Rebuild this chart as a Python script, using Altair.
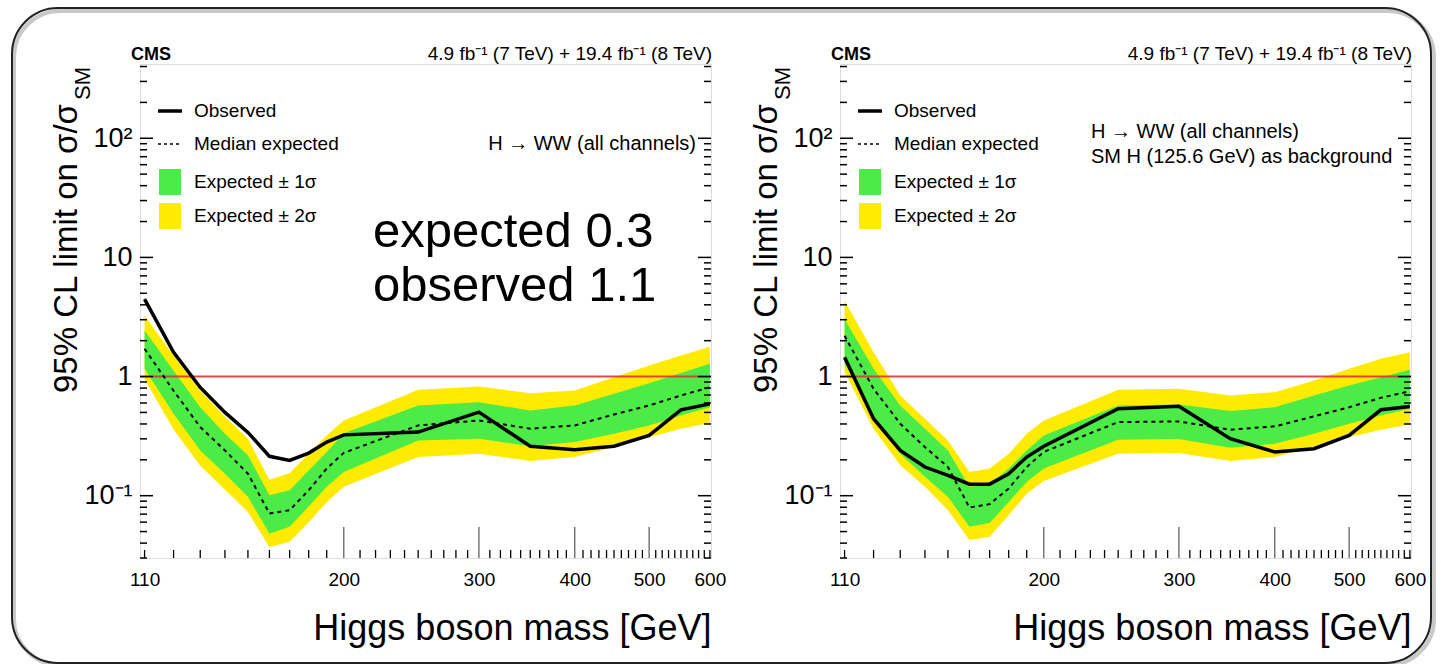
import altair as alt
import pandas as pd

# ---------------- data ----------------
mass = [110, 120, 130, 140, 150, 160, 170, 180, 190, 200, 250, 300, 350, 400, 450, 500, 550, 600]

left_obs = [4.47, 1.60, 0.81, 0.50, 0.34, 0.214, 0.198, 0.228, 0.282, 0.324, 0.342, 0.503, 0.26, 0.243, 0.26, 0.321, 0.526, 0.59]
left_exp = [1.71, 0.76, 0.377, 0.24, 0.153, 0.071, 0.0756, 0.111, 0.169, 0.229, 0.389, 0.428, 0.365, 0.389, 0.481, 0.572, 0.693, 0.814]
left_g_hi = [2.43, 1.12, 0.553, 0.331, 0.218, 0.101, 0.111, 0.163, 0.233, 0.335, 0.572, 0.61, 0.519, 0.572, 0.717, 0.879, 1.07, 1.28]
left_g_lo = [1.16, 0.487, 0.24, 0.153, 0.098, 0.048, 0.055, 0.081, 0.119, 0.158, 0.291, 0.301, 0.26, 0.282, 0.331, 0.389, 0.472, 0.553]
left_y_hi = [3.24, 1.5, 0.76, 0.46, 0.30, 0.136, 0.155, 0.225, 0.32, 0.428, 0.774, 0.825, 0.725, 0.764, 0.987, 1.24, 1.5, 1.78]
left_y_lo = [0.95, 0.36, 0.178, 0.113, 0.073, 0.037, 0.041, 0.06, 0.088, 0.119, 0.211, 0.225, 0.196, 0.211, 0.256, 0.31, 0.365, 0.407]

right_obs = [1.45, 0.443, 0.24, 0.174, 0.148, 0.125, 0.125, 0.153, 0.211, 0.26, 0.537, 0.564, 0.301, 0.233, 0.248, 0.321, 0.526, 0.561]
right_exp = [2.2, 0.789, 0.402, 0.256, 0.174, 0.0796, 0.0849, 0.115, 0.174, 0.233, 0.415, 0.42, 0.358, 0.382, 0.463, 0.553, 0.663, 0.753]
right_g_hi = [3.04, 1.16, 0.572, 0.365, 0.24, 0.119, 0.125, 0.169, 0.24, 0.32, 0.572, 0.583, 0.513, 0.553, 0.693, 0.841, 0.987, 1.14]
right_g_lo = [1.28, 0.472, 0.225, 0.144, 0.098, 0.055, 0.059, 0.0887, 0.13, 0.169, 0.295, 0.299, 0.253, 0.273, 0.331, 0.402, 0.472, 0.537]
right_y_hi = [4.32, 1.6, 0.693, 0.443, 0.291, 0.158, 0.169, 0.225, 0.331, 0.428, 0.774, 0.789, 0.693, 0.74, 0.926, 1.16, 1.41, 1.6]
right_y_lo = [1.09, 0.365, 0.18, 0.119, 0.0756, 0.0424, 0.0452, 0.0687, 0.104, 0.133, 0.225, 0.228, 0.196, 0.211, 0.256, 0.31, 0.358, 0.396]

x_labels = [110, 200, 300, 400, 500, 600]
x_major_ticks = [200, 300, 400, 500]
x_minor_ticks = [m for m in range(110, 601, 10) if m not in (200, 300, 400, 500)]
y_labels = [0.1, 1, 10, 100]
y_minor_ticks = [0.03, 0.04, 0.05, 0.06, 0.07, 0.08, 0.09,
                 0.2, 0.3, 0.4, 0.5, 0.6, 0.7, 0.8, 0.9,
                 2, 3, 4, 5, 6, 7, 8, 9,
                 20, 30, 40, 50, 60, 70, 80, 90, 200, 300, 400]

legend_labels = ["Observed", "Median expected", "Expected \u00b1 1\u03c3", "Expected \u00b1 2\u03c3"]
y_title = "95% CL limit on \u03c3/\u03c3"
y_title_sub = "SM"
x_title = "Higgs boson mass [GeV]"
cms_label = "CMS"
lumi_label = "4.9 fb\u207b\u00b9 (7 TeV) + 19.4 fb\u207b\u00b9 (8 TeV)"
left_note = ["H \u2192 WW (all channels)"]
right_note = ["H \u2192 WW (all channels)", "SM H (125.6 GeV) as background"]
big_note = ["expected 0.3", "observed 1.1"]

# ---------------- style ----------------
FONT = "Liberation Sans"
GREEN = "#4DEB48"
YELLOW = "#FFEB00"
RED = "#DD3535"
W, H = 571, 494
XDOM = [108.5, 602]
YDOM = [0.03, 420]

one = pd.DataFrame({"k": [0]})


def X(field):
    return alt.X(f"{field}:Q",
                 scale=alt.Scale(type="log", domain=XDOM, nice=False),
                 axis=alt.Axis(values=x_labels, ticks=False, domain=False, grid=False,
                               labelFontSize=19, labelPadding=12, labelColor="black",
                               labelOverlap=False, labelFont=FONT, format="d",
                               title=x_title, titleFontSize=36, titleFontWeight="normal",
                               titleFont=FONT, titleColor="black", titleAnchor="end",
                               titlePadding=22))


def Y(field):
    return alt.Y(f"{field}:Q",
                 scale=alt.Scale(type="log", domain=YDOM, nice=False),
                 axis=alt.Axis(values=y_labels, ticks=False, domain=False, grid=False,
                               labelFontSize=27, labelPadding=8, labelColor="black",
                               labelOverlap=False, labelFont=FONT,
                               labelExpr="datum.value >= 50 ? '10\u00b2' : datum.value >= 5 ? '10' : datum.value >= 0.5 ? '1' : '10\u207b\u00b9'",
                               title=None))


def txt(s, x, y, size, align="left", baseline="middle", bold=False, angle=0):
    return alt.Chart(one).mark_text(
        text=s, fontSize=size, align=align, baseline=baseline, font=FONT,
        fontWeight="bold" if bold else "normal", angle=angle, color="black"
    ).encode(x=alt.value(x), y=alt.value(y))


def panel(obs, exp, g_hi, g_lo, y_hi, y_lo, notes, note_x, note_y0, note_align, extra=()):
    df = pd.DataFrame({"mass": mass, "obs": obs, "exp": exp, "g_hi": g_hi,
                       "g_lo": g_lo, "y_hi": y_hi, "y_lo": y_lo})
    base = alt.Chart(df)
    yellow = base.mark_area(color=YELLOW).encode(x=X("mass"), y=Y("y_lo"), y2="y_hi")
    green = base.mark_area(color=GREEN).encode(x=X("mass"), y=Y("g_lo"), y2="g_hi")
    red = alt.Chart(pd.DataFrame({"v": [1]})).mark_rule(color=RED, strokeWidth=2, opacity=0.9).encode(
        y=Y("v"), x=alt.value(0), x2=alt.value(W))
    med = base.mark_line(color="black", strokeWidth=2, strokeDash=[4, 4]).encode(x=X("mass"), y=Y("exp"))
    ob = base.mark_line(color="black", strokeWidth=3.5).encode(x=X("mass"), y=Y("obs"))

    ymaj = alt.Chart(pd.DataFrame({"t": y_labels}))
    ymin = alt.Chart(pd.DataFrame({"t": y_minor_ticks}))
    xmaj = alt.Chart(pd.DataFrame({"t": x_major_ticks}))
    xmin = alt.Chart(pd.DataFrame({"t": x_minor_ticks}))
    ticks = [
        ymaj.mark_rule(color="black", strokeWidth=1.5).encode(y=Y("t"), x=alt.value(0), x2=alt.value(13)),
        ymaj.mark_rule(color="black", strokeWidth=1.5).encode(y=Y("t"), x=alt.value(W), x2=alt.value(W - 13)),
        ymin.mark_rule(color="black", strokeWidth=1.5).encode(y=Y("t"), x=alt.value(0), x2=alt.value(7)),
        ymin.mark_rule(color="black", strokeWidth=1.5).encode(y=Y("t"), x=alt.value(W), x2=alt.value(W - 7)),
        xmaj.mark_rule(color="#555555", strokeWidth=1.2).encode(x=X("t"), y=alt.value(H), y2=alt.value(H - 31)),
        xmin.mark_rule(color="black", strokeWidth=1.3).encode(x=X("t"), y=alt.value(H), y2=alt.value(H - 8)),
    ]

    # legend (ROOT style, inside the frame)
    leg = [
        alt.Chart(one).mark_rule(color="black", strokeWidth=3.5).encode(
            x=alt.value(18), x2=alt.value(42), y=alt.value(47)),
        alt.Chart(one).mark_rule(color="black", strokeWidth=1.5, strokeDash=[3, 3]).encode(
            x=alt.value(18), x2=alt.value(42), y=alt.value(80)),
        alt.Chart(one).mark_rect(color=GREEN).encode(
            x=alt.value(19), x2=alt.value(41), y=alt.value(105), y2=alt.value(131)),
        alt.Chart(one).mark_rect(color=YELLOW).encode(
            x=alt.value(19), x2=alt.value(41), y=alt.value(139), y2=alt.value(165)),
        txt(legend_labels[0], 54, 47, 19),
        txt(legend_labels[1], 54, 80, 19),
        txt(legend_labels[2], 54, 118, 19),
        txt(legend_labels[3], 54, 152, 19),
    ]
    heads = [
        txt(cms_label, -9, -4, 18, baseline="alphabetic", bold=True),
        txt(lumi_label, 572, -4, 19, align="right", baseline="alphabetic"),
        txt(y_title, -73, 329, 33, angle=270),
        txt(y_title_sub, -57, 36, 22, angle=270),
    ]
    nts = [txt(s, note_x, note_y0 + 25 * i, 20, align=note_align) for i, s in enumerate(notes)]

    layers = list(extra) + [yellow, green, red, med, ob] + ticks + leg + heads + nts
    return alt.layer(*layers).properties(width=W, height=H)


# slide frame with rounded corners (drawn from the left panel)
frame = [
    alt.Chart(one).mark_rect(filled=False, stroke="#c9c9c9", strokeWidth=4, cornerRadius=46).encode(
        x=alt.value(-126), x2=alt.value(1294), y=alt.value(-53), y2=alt.value(601)),
    alt.Chart(one).mark_rect(filled=False, stroke="#222222", strokeWidth=2, cornerRadius=46).encode(
        x=alt.value(-128), x2=alt.value(1291), y=alt.value(-56), y2=alt.value(599)),
    txt(big_note[0], 233, 183, 49, baseline="alphabetic"),
    txt(big_note[1], 233, 237, 49, baseline="alphabetic"),
]

left = panel(left_obs, left_exp, left_g_hi, left_g_lo, left_y_hi, left_y_lo,
             left_note, 556, 80, "right", extra=frame)
right = panel(right_obs, right_exp, right_g_hi, right_g_lo, right_y_hi, right_y_lo,
              right_note, 251, 68, "left")

chart = alt.hconcat(left, right, spacing=129, bounds="flush").properties(
    padding={"left": 10, "top": 6, "right": 4, "bottom": 0},
    background="white",
).configure_view(stroke="black", strokeWidth=2.5).configure(font=FONT)

chart.save("out.html", embed_options={"renderer": "svg", "actions": False})
